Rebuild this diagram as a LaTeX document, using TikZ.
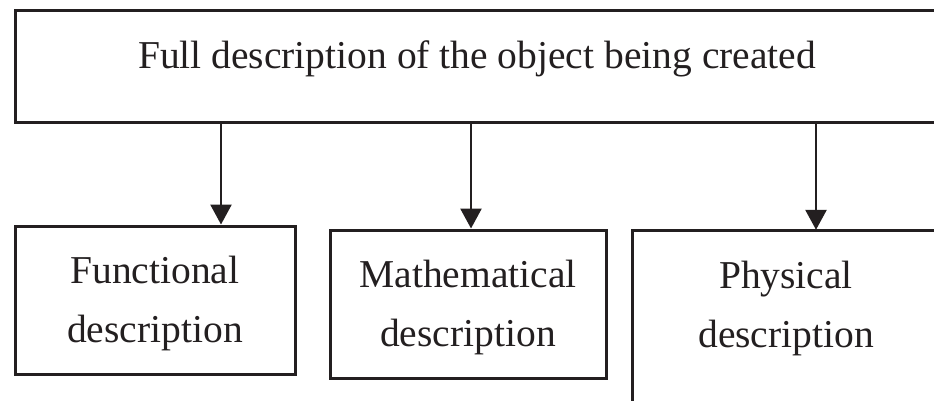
\documentclass[tikz,border=0pt]{standalone}
\usepackage{fontspec}
\setmainfont{Liberation Serif}
\usetikzlibrary{arrows.meta}
\definecolor{ink}{HTML}{231F20}
\tikzset{
  boxline/.style={draw=ink, line width=3pt},
  lbl/.style={anchor=base, inner sep=0pt, text=ink, font=\fontsize{39.5}{42}\selectfont},
  conn/.style={draw=ink, line width=2.6pt, -{Triangle[width=21pt,length=20pt]}}
}
\begin{document}
\begin{tikzpicture}[x=1pt,y=-1pt]
\useasboundingbox (0,0) rectangle (934,400);
\begin{scope}
\clip (0,0) rectangle (934,400);
\draw[boxline] (15,10) rectangle (940,122);
\draw[boxline] (632,230) rectangle (940,410);
\end{scope}
\node[inner sep=0pt, minimum width=925pt, minimum height=112pt] (top) at (477.5,66) {};
\node[boxline, inner sep=0pt, minimum width=280pt, minimum height=148pt] (func) at (155,300) {};
\node[boxline, inner sep=0pt, minimum width=276pt, minimum height=148pt] (math) at (468,304) {};
\node[inner sep=0pt, minimum width=308pt, minimum height=180pt] (phys) at (786,320) {};
\node[lbl] (ttop) at (477,68) {Full description of the object being created};
\node[lbl] (tf1) at (155,283) {Functional};
\node[lbl] (tf2) at (155,342) {description};
\node[lbl] (tm1) at (468,287) {Mathematical};
\node[lbl] (tm2) at (468,346) {description};
\node[lbl] (tp1) at (786,288) {Physical};
\node[lbl] (tp2) at (786,347) {description};
\draw[conn] (top.south -| 221,0) -- (func.north -| 221,0);
\draw[conn] (top.south -| 471,0) -- (math.north -| 471,0);
\draw[conn] (top.south -| 816,0) -- (phys.north -| 816,0);
\end{tikzpicture}
\end{document}
